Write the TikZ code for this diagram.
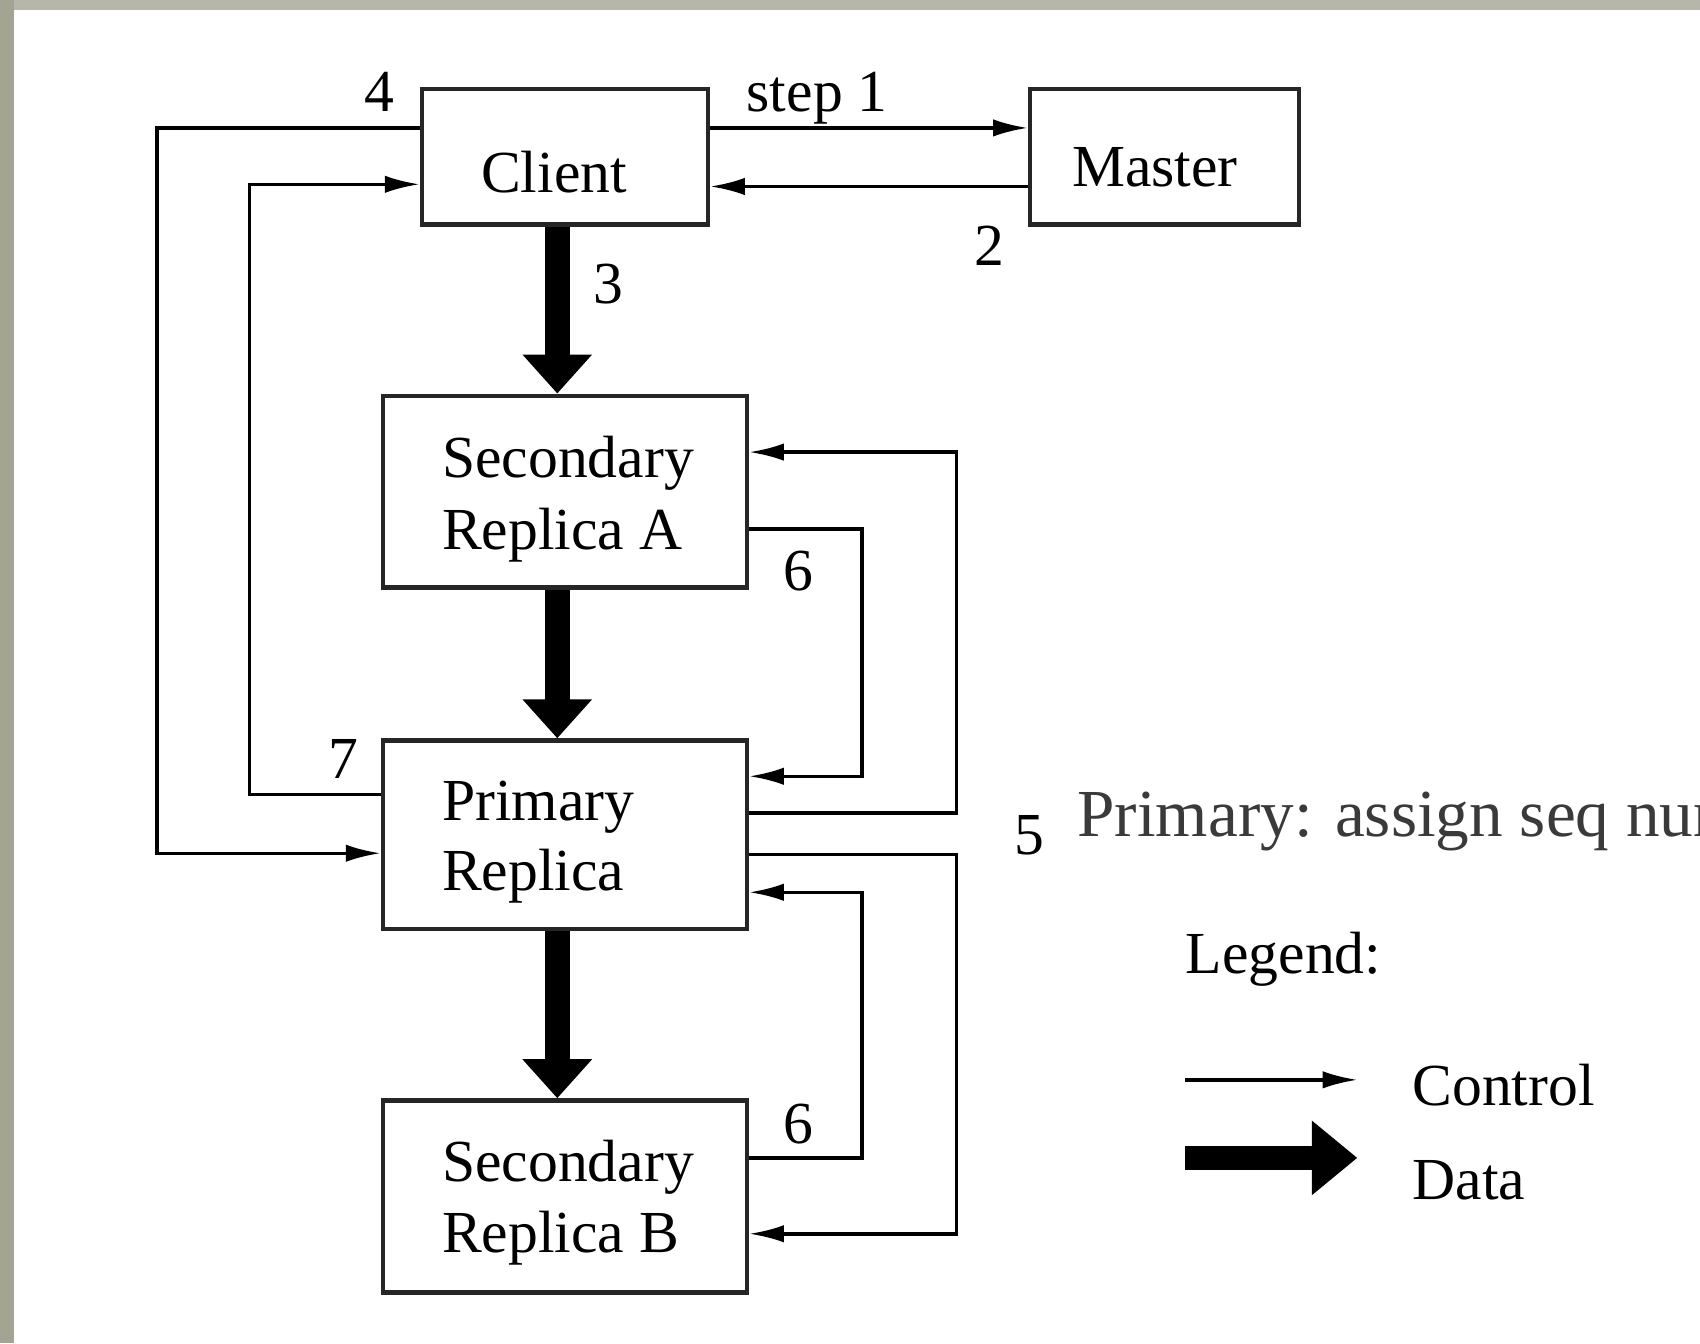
\documentclass[tikz,border=0pt]{standalone}
\usepackage{fontspec}
\setmainfont{Liberation Serif}
\usetikzlibrary{arrows.meta}
\definecolor{bordertop}{HTML}{B7B7A9}
\definecolor{borderleft}{HTML}{A4A492}
\definecolor{overlaytext}{HTML}{3A3A3A}
\tikzset{
  box/.style={draw=black!85, line width=1pt, fill=white, inner sep=0pt},
  txt/.style={inner sep=0pt, anchor=base west, font=\fontsize{13.75pt}{16.75pt}\selectfont},
  ctrl/.style={draw=black, line width=0.8pt, -{Latex[length=8pt,width=4pt]}},
  dataflow/.style={draw=black, line width=5.75pt, -{Triangle[length=9pt,width=15.5pt]}},
}
\begin{document}
\begin{tikzpicture}[x=0.25pt,y=-0.25pt]
\useasboundingbox (0,0) rectangle (1568,1239);
\clip (0,0) rectangle (1568,1239);
\fill[white] (0,0) rectangle (1568,1239);
\fill[bordertop] (0,0) rectangle (1568,9);
\fill[borderleft] (0,0) rectangle (13,1239);

% boxes
\node[box, minimum width=66pt, minimum height=31.25pt] (client) at (521,144.5) {};
\node[box, minimum width=62pt, minimum height=31.25pt] (master) at (1074,144.5) {};
\node[box, minimum width=84pt, minimum height=44.25pt] (secA) at (521,453.5) {};
\node[box, minimum width=84pt, minimum height=43.5pt] (primary) at (521,770) {};
\node[box, minimum width=84pt, minimum height=44.25pt] (secB) at (521,1103.5) {};

% box texts
\node[txt] (clientT) at (443,178) {Client};
\node[txt] (masterT) at (988,172) {Master};
\node[txt] (secAT1) at (407,440) {Secondary};
\node[txt] (secAT2) at (407,507) {Replica A};
\node[txt] (primT1) at (407,757) {Primary};
\node[txt] (primT2) at (407,821) {Replica};
\node[txt] (secBT1) at (407,1090) {Secondary};
\node[txt] (secBT2) at (407,1155) {Replica B};

% route coordinates
\coordinate (L4a) at (145,118);
\coordinate (L4b) at (145,787);
\coordinate (L7a) at (230,733);
\coordinate (L7b) at (230,170);
\coordinate (S1) at (800,118);
\coordinate (S2) at (800,172);
\coordinate (OA1) at (882,750);
\coordinate (OA2) at (882,417);
\coordinate (IA1) at (795,488);
\coordinate (IA2) at (795,716);
\coordinate (OB1) at (882,788);
\coordinate (OB2) at (882,1138);
\coordinate (IB1) at (795,1068);
\coordinate (IB2) at (795,823);
\coordinate (DX) at (514,0);

% control connectors
\draw[ctrl] (client.east |- S1) -- (master.west |- S1);
\draw[ctrl] (master.west |- S2) -- (client.east |- S2);
\draw[ctrl] (client.west |- L4a) -- (L4a) -- (L4b) -- (primary.west |- L4b);
\draw[ctrl] (primary.west |- L7a) -- (L7a) -- (L7b) -- (client.west |- L7b);
\draw[ctrl] (primary.east |- OA1) -- (OA1) -- (OA2) -- (secA.east |- OA2);
\draw[ctrl] (secA.east |- IA1) -- (IA1) -- (IA2) -- (primary.east |- IA2);
\draw[ctrl] (primary.east |- OB1) -- (OB1) -- (OB2) -- (secB.east |- OB2);
\draw[ctrl] (secB.east |- IB1) -- (IB1) -- (IB2) -- (primary.east |- IB2);

% data connectors
\draw[dataflow] (client.south -| DX) -- (secA.north -| DX);
\draw[dataflow] (secA.south -| DX) -- (primary.north -| DX);
\draw[dataflow] (primary.south -| DX) -- (secB.north -| DX);

% step labels
\node[txt] (n4) at (335,103) {4};
\node[txt] (nstep1) at (688,103) {step 1};
\node[txt] (n2) at (898,245) {2};
\node[txt] (n3) at (547,280) {3};
\node[txt] (n6a) at (722,545) {6};
\node[txt] (n7) at (302,718) {7};
\node[txt] (n5) at (935,788) {5};
\node[txt] (n6b) at (722,1055) {6};

% overlay text
\node[inner sep=0pt, anchor=base west, text=overlaytext, font=\fontsize{15.5pt}{18pt}\selectfont] (note) at (993,772) {Primary: assign seq num};

% legend
\node[txt] (legend) at (1093,898) {Legend:};
\coordinate (lc1) at (1093,996);
\coordinate (lc2) at (1252,996);
\draw[ctrl] (lc1) -- (lc2);
\node[txt] (legC) at (1302,1020) {Control};
\coordinate (ld1) at (1093,1068);
\coordinate (ld2) at (1252,1068);
\draw[draw=black, line width=5.5pt, -{Triangle[length=10.5pt,width=16.5pt]}] (ld1) -- (ld2);
\node[txt] (legD) at (1302,1106) {Data};
\end{tikzpicture}
\end{document}
